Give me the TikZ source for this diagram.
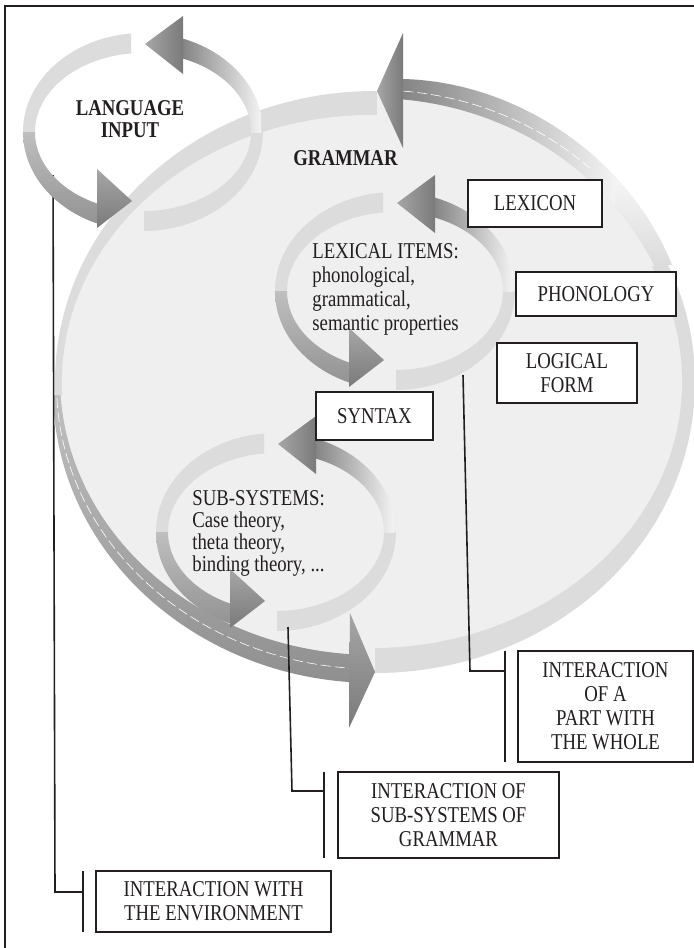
\documentclass[tikz,border=0pt]{standalone}
\usepackage{fontspec}
\setmainfont{Liberation Serif}[FakeStretch=0.83]
\definecolor{disc}{HTML}{EFEFEF}
\definecolor{band}{HTML}{DCDCDC}
\definecolor{ink}{HTML}{231F20}
\definecolor{ahA}{HTML}{A6A6A6}
\definecolor{ahB}{HTML}{7A7A7A}
\definecolor{ribA}{HTML}{C0C0C0}
\definecolor{ribB}{HTML}{8E8E8E}
\definecolor{shA}{HTML}{858585}
\definecolor{shB}{HTML}{F3F3F3}
\tikzset{
  box/.style={draw=ink, line width=0.8pt, fill=white, inner sep=0pt, align=center,
    font=\fontsize{11.3}{12}\selectfont, text=ink},
  lbl/.style={inner sep=0pt, text=ink},
  wire/.style={draw=ink, line width=0.8pt},
  frameline/.style={draw=ink, line width=1pt},
}
% one ribbon loop centred at (#1,#2), in pixel units
\newcommand{\ribbonloop}[2]{%
\begin{scope}[shift={(#1,#2)}]
  % light band, top-left
  \begin{scope}
    \clip (-130,-115) rectangle (-12,0);
    \fill[band, even odd rule] (0,0) ellipse [x radius=120, y radius=99]
                               (0,0) ellipse [x radius=108, y radius=79];
  \end{scope}
  % light band, bottom-right
  \begin{scope}
    \clip (1,0) rectangle (130,115);
    \fill[band, even odd rule] (0,0) ellipse [x radius=120, y radius=99]
                               (0,0) ellipse [x radius=108, y radius=79];
  \end{scope}
  % dark ribbon, lower-left
  \begin{scope}[even odd rule]
    \clip (-130,0) rectangle (-46,115);
    \clip (0,0) ellipse [x radius=120, y radius=99]
          (0,0) ellipse [x radius=108, y radius=79];
    \shade[top color=ribA, bottom color=ribB] (-125,-2) rectangle (-46,102);
  \end{scope}
  % shaded shaft, top-right
  \begin{scope}[even odd rule]
    \clip (40,-115) rectangle (130,0);
    \clip (0,0) ellipse [x radius=120, y radius=99]
          (0,0) ellipse [x radius=108, y radius=79];
    \shade[left color=shA, right color=shB] (40,-105) rectangle (118,0);
  \end{scope}
  % arrow heads
  \shade[left color=ahA, right color=ahB] (40,-116) -- (2,-88) -- (40,-58) -- cycle;
  \shade[top color=ahA, bottom color=ahB] (-46,37) -- (-11,69) -- (-46,96) -- cycle;
\end{scope}}
\begin{document}
\begin{tikzpicture}[x=0.5pt, y=-0.5pt]
\useasboundingbox (0,0) rectangle (694,948);
\clip (0,0) rectangle (694,948);
\fill[white] (0,0) rectangle (694,948);
% frame
\draw[frameline] (5,960) -- (5,6) -- (700,6);

% ---------- big grammar disc ----------
\fill[band] (375,382) ellipse [x radius=320, y radius=291];
\fill[disc] (372,381.5) ellipse [x radius=310, y radius=266.5];
% gaps beside the arrow tips
\begin{scope}
  \clip (377,40) rectangle (403,200);
  \fill[disc] (375,382) ellipse [x radius=320, y radius=291];
\end{scope}
\begin{scope}
  \clip (350,560) rectangle (375,700);
  \fill[disc] (375,382) ellipse [x radius=320, y radius=291];
\end{scope}
% lower-left dark ribbon
\begin{scope}
  \clip (0,395) rectangle (350,760);
  \fill[disc] (374,378) ellipse [x radius=314, y radius=277];
  \begin{scope}[even odd rule]
    \clip (375,390) ellipse [x radius=322, y radius=293]
          (374,378) ellipse [x radius=314, y radius=277];
    \shade[top color=ribA, bottom color=ribB] (40,395) rectangle (350,690);
  \end{scope}
  \draw[white, line width=0.3pt, dash pattern=on 5pt off 2pt] (374.5,384) ellipse [x radius=318, y radius=285];
\end{scope}
% top-right shaded shaft
\begin{scope}
  \clip (403,0) rectangle (700,265);
  \fill[disc] (372,384) ellipse [x radius=310, y radius=286];
  \begin{scope}[even odd rule]
    \clip (403,79) .. controls (520,82) and (630,160) .. (672,265) -- (403,265) -- cycle;
    \clip (0,0) rectangle (700,948) (372,384) ellipse [x radius=310, y radius=286];
    \shade[left color=shA, right color=shB] (403,60) rectangle (615,265);
    \fill[shB] (615,0) rectangle (700,185);
    \shade[top color=shB, bottom color=band] (615,185) rectangle (700,265);
  \end{scope}
  \begin{scope}
    \clip (403,0) rectangle (590,265);
    \draw[white, line width=0.3pt, dash pattern=on 5pt off 2pt] (376,386) ellipse [x radius=316, y radius=296];
  \end{scope}
\end{scope}
% big arrow heads
\shade[left color=ahA, right color=ahB] (403,33) -- (377,91) -- (403,148) -- cycle;
\shade[top color=ahA, bottom color=ahB] (350,613) -- (375,672) -- (349,728) -- cycle;

% ---------- inner loops ----------
\ribbonloop{395}{291}
\ribbonloop{276}{532}

% environment connector (under the small loop)
\coordinate (envA) at (53,175);
\coordinate (envB) at (55,892);
\coordinate (envC) at (83,892);
\coordinate (envT) at (83,871);
\coordinate (envD) at (83,932);
\draw[wire] (envA) -- (envB) -- (envC);
\draw[wire] (envT) -- (envD);

% ---------- language input loop ----------
\ribbonloop{143}{132}

% other connectors
\coordinate (subA) at (288,627);
\coordinate (subB) at (292,791);
\coordinate (subC) at (324,791);
\coordinate (subT) at (324,772);
\coordinate (subD) at (324,858);
\draw[wire] (subA) -- (subB) -- (subC);
\draw[wire] (subT) -- (subD);
\coordinate (partA) at (463,375);
\coordinate (partB) at (470,671);
\coordinate (partC) at (505,671);
\coordinate (partT) at (505,651);
\coordinate (partD) at (505,762);
\draw[wire] (partA) -- (partB) -- (partC);
\draw[wire] (partT) -- (partD);

% ---------- texts ----------
\node[lbl, font=\fontsize{11.3}{11}\selectfont\bfseries, align=center, anchor=north] (langin) at (130,100) {LANGUAGE\\INPUT};
\node[lbl, font=\fontsize{11.3}{11}\selectfont\bfseries, anchor=base west] (grammar) at (293,165) {GRAMMAR};
\node[lbl, font=\fontsize{11.3}{12}\selectfont, align=left, anchor=north west] (lexitems) at (312,243)
  {LEXICAL ITEMS:\\phonological,\\grammatical,\\semantic properties};
\node[lbl, font=\fontsize{11.3}{11.1}\selectfont, align=left, anchor=north west] (subsys) at (192,490)
  {SUB-SYSTEMS:\\Case theory,\\theta theory,\\binding theory, ...};

% ---------- boxes ----------
\node[box, minimum width=67pt, minimum height=23.5pt] (lexicon) at (535,203.5) {LEXICON};
\node[box, minimum width=80pt, minimum height=22pt] (phonology) at (596,294) {PHONOLOGY};
\node[box, minimum width=70pt, minimum height=30pt] (logical) at (567,373) {LOGICAL\\FORM};
\node[box, minimum width=58.5pt, minimum height=24pt] (syntax) at (374.5,416) {SYNTAX};
\node[box, minimum width=87.5pt, minimum height=55.5pt] (partwhole) at (605.5,706.5) {INTERACTION\\OF A\\PART WITH\\THE WHOLE};
\node[box, minimum width=110.5pt, minimum height=43pt] (subint) at (448.5,815) {INTERACTION OF\\SUB-SYSTEMS OF\\GRAMMAR};
\node[box, minimum width=117.5pt, minimum height=30.5pt] (envint) at (213.5,901.5) {INTERACTION WITH\\THE ENVIRONMENT};
\end{tikzpicture}
\end{document}
